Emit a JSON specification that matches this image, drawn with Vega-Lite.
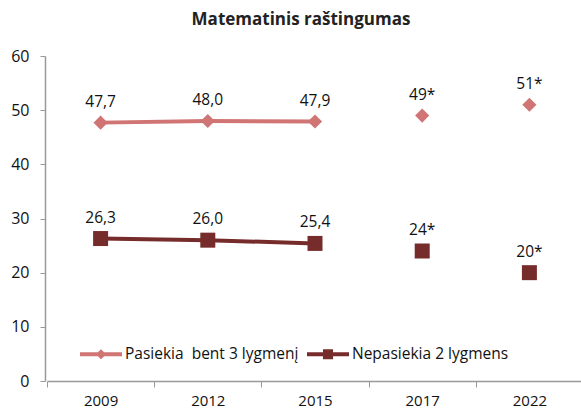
{
  "$schema": "https://vega.github.io/schema/vega-lite/v6.json",
  "width": 536,
  "height": 325,
  "autosize": {"type": "none"},
  "padding": {"left": 47, "top": 56, "right": 0, "bottom": 32},
  "background": "white",
  "title": {"text": "Matematinis raštingumas", "font": "Open Sans", "fontSize": 17, "fontWeight": "bold", "color": "#222222", "anchor": "middle", "offset": 19, "dx": -14},
  "config": {
    "view": {"stroke": null},
    "font": "Open Sans",
    "axis": {"labelFont": "Open Sans", "labelFontSize": 15, "labelColor": "#111111", "domainColor": "#999999", "tickColor": "#999999", "grid": false, "title": null},
    "legend": {"orient": "none", "legendX": 33, "legendY": 277, "direction": "horizontal", "title": null,
               "labelFont": "Open Sans", "labelFontSize": 15.5, "labelColor": "#111111", "labelLimit": 300,
               "symbolSize": 1764, "symbolOpacity": 1, "symbolStrokeWidth": 0, "columnPadding": 8, "labelOffset": 3}
  },
  "data": {
    "values": [
      {"year": "2009", "series": "Pasiekia  bent 3 lygmenį", "value": 47.7, "label": "47,7"},
      {"year": "2012", "series": "Pasiekia  bent 3 lygmenį", "value": 48.0, "label": "48,0"},
      {"year": "2015", "series": "Pasiekia  bent 3 lygmenį", "value": 47.9, "label": "47,9"},
      {"year": "2017", "series": "Pasiekia  bent 3 lygmenį", "value": 49, "label": "49*"},
      {"year": "2022", "series": "Pasiekia  bent 3 lygmenį", "value": 51, "label": "51*"},
      {"year": "2009", "series": "Nepasiekia 2 lygmens", "value": 26.3, "label": "26,3"},
      {"year": "2012", "series": "Nepasiekia 2 lygmens", "value": 26.0, "label": "26,0"},
      {"year": "2015", "series": "Nepasiekia 2 lygmens", "value": 25.4, "label": "25,4"},
      {"year": "2017", "series": "Nepasiekia 2 lygmens", "value": 24, "label": "24*"},
      {"year": "2022", "series": "Nepasiekia 2 lygmens", "value": 20, "label": "20*"}
    ]
  },
  "encoding": {
    "x": {"field": "year", "type": "ordinal", "sort": null, "scale": {"paddingInner": 0, "paddingOuter": 0},
          "axis": {"labelAngle": 0, "tickBand": "extent", "tickSize": 6, "labelPadding": 6, "domainWidth": 1.5}},
    "y": {"field": "value", "type": "quantitative", "scale": {"domain": [0, 60]},
          "axis": {"values": [0, 10, 20, 30, 40, 50, 60], "tickSize": 5, "labelPadding": 11, "labelFontSize": 16, "domainWidth": 1.5, "offset": 2}},
    "color": {"field": "series", "type": "nominal", "sort": null,
              "scale": {"domain": ["Pasiekia  bent 3 lygmenį", "Nepasiekia 2 lygmens"], "range": ["#d07474", "#772c2c"]},
              "legend": {"labelExpr": "replace(datum.label, '  ', ' \u00a0')",
                "encode": {"symbols": {"update": {
                "fill": {"scale": "color", "field": "value"},
                "shape": {"signal": "datum.value === 'Nepasiekia 2 lygmens' ? 'M-1,-0.09H-0.24V-0.24H0.24V-0.09H1V0.09H0.24V0.24H-0.24V0.09H-1Z' : 'M-1,-0.09H-0.15L0,-0.24L0.15,-0.09H1V0.09H0.15L0,0.24L-0.15,0.09H-1Z'"}}}}}}
  },
  "layer": [
    {
      "transform": [{"filter": {"field": "year", "oneOf": ["2009", "2012", "2015"]}}],
      "mark": {"type": "line", "strokeWidth": 4}
    },
    {
      "transform": [{"filter": {"field": "series", "equal": "Pasiekia  bent 3 lygmenį"}}],
      "mark": {"type": "point", "filled": true, "opacity": 1, "shape": "diamond", "size": 200}
    },
    {
      "transform": [{"filter": {"field": "series", "equal": "Nepasiekia 2 lygmens"}}],
      "mark": {"type": "point", "filled": true, "opacity": 1, "shape": "square", "size": 225}
    },
    {
      "mark": {"type": "text", "dy": -21, "fontSize": 15.5, "font": "Open Sans", "color": "#111111"},
      "encoding": {"text": {"field": "label"}, "color": {"value": "#111111"}}
    }
  ]
}
